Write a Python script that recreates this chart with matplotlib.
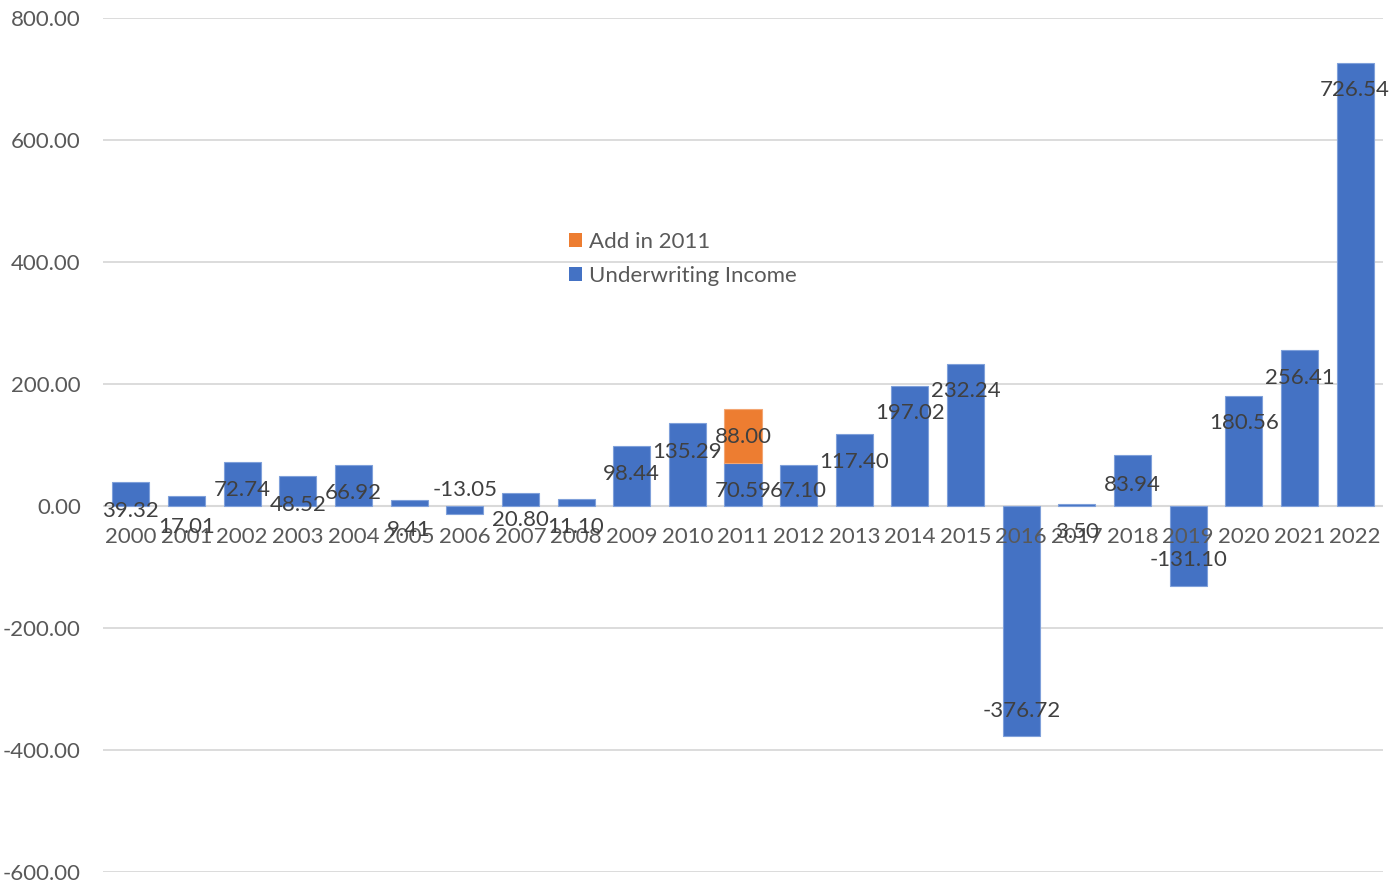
import matplotlib.pyplot as plt
from matplotlib.patches import Patch

# Underwriting income by year, with the extra 2011 amount stacked on top
years = [str(y) for y in range(2000, 2023)]
income = [39.32, 17.01, 72.74, 48.52, 66.92, 9.41, -13.05, 20.80, 11.10, 98.44,
          135.29, 70.59, 67.10, 117.40, 197.02, 232.24, -376.72, 3.50, 83.94,
          -131.10, 180.56, 256.41, 726.54]
add_2011 = 88.00
add_year = "2011"

# vertical spot of each data label (data units)
label_y = [-8, -34, 26, 2, 22, -40, 26, -23, -34, 52,
           89, 24, 24, 72, 152, 188, -336, -42, 34,
           -88, 136, 210, 682]
add_label_y = 113
cat_label_y = -51

blue = '#4472C4'
orange = '#ED7D31'
plt.rcParams['font.family'] = ['Lato', 'DejaVu Sans']

fig = plt.figure(figsize=(13.92, 8.86), dpi=100)
ax = fig.add_axes([103 / 1392, 14 / 886, 1280 / 1392, 854 / 886])

x = list(range(len(years)))
ax.bar(x, income, width=0.665, color=blue, edgecolor='#7FA0DA', linewidth=0.8, zorder=3)
i11 = years.index(add_year)
ax.bar(i11, add_2011, bottom=income[i11], width=0.665, color=orange,
       edgecolor='#F3A673', linewidth=0.8, zorder=3)

ax.set_xlim(-0.5, len(years) - 0.5)
ax.set_ylim(-600, 800)
ax.set_yticks(range(-600, 801, 200))
ax.set_yticklabels([f'{v:.2f}' for v in range(-600, 801, 200)])
ax.set_xticks([])
ax.grid(axis='y', color='#D9D9D9', linewidth=1.3, zorder=0)
ax.axhline(0, color='#D9D9D9', linewidth=1.5, zorder=2)
for s in ax.spines.values():
    s.set_visible(False)
ax.tick_params(axis='y', length=0, pad=16, labelsize=16, labelcolor='#595959')

# category names sit just under the zero line
for i, yr in enumerate(years):
    ax.text(i, cat_label_y, yr, ha='center', va='center', fontsize=16,
            color='#595959', zorder=5)

for i, v in enumerate(income):
    ax.text(i, label_y[i], f'{v:.2f}', ha='center', va='center',
            fontsize=16, color='#404040', zorder=6)
ax.text(i11, add_label_y, f'{add_2011:.2f}', ha='center', va='center',
        fontsize=16, color='#404040', zorder=6)

handles = [Patch(facecolor=orange, label='Add in 2011'),
           Patch(facecolor=blue, label='Underwriting Income')]
fig.legend(handles=handles, loc='upper left', bbox_to_anchor=(569 / 1392, 1 - 232 / 886),
           frameon=False, fontsize=16, labelcolor='#595959', handlelength=0.6,
           handleheight=0.6, handletextpad=0.3, labelspacing=0.63, borderpad=0,
           borderaxespad=0)

fig.savefig('out.png', dpi=100)
